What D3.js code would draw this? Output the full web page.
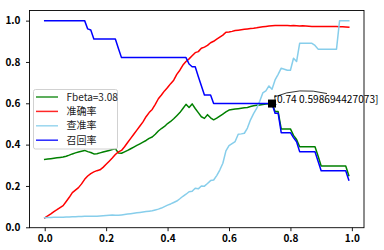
<!DOCTYPE html>
<html><head><meta charset="utf-8">
<script src="https://cdn.jsdelivr.net/npm/d3@7/dist/d3.min.js"></script>
<style>
body{margin:0;background:#fff;}
svg text{font-family:"Noto Sans CJK SC","DejaVu Sans",sans-serif;}
</style></head>
<body><svg id="c" width="384" height="250"></svg>
<script>
// thresholds 0.00 .. 0.99
const thresholds = d3.range(100).map(i => i / 100);

const fbeta = [0.328,0.330,0.332,0.334,0.336,0.338,0.340,0.344,0.349,0.355,
0.360,0.364,0.368,0.372,0.366,0.362,0.355,0.356,0.360,0.364,
0.368,0.372,0.376,0.380,0.360,0.358,0.365,0.372,0.380,0.388,
0.396,0.404,0.412,0.420,0.430,0.437,0.450,0.466,0.478,0.488,
0.502,0.512,0.525,0.540,0.555,0.575,0.595,0.580,0.597,0.575,
0.555,0.535,0.527,0.545,0.530,0.520,0.528,0.538,0.548,0.558,
0.567,0.570,0.572,0.574,0.576,0.578,0.580,0.584,0.588,0.590,
0.592,0.594,0.596,0.598,0.5987,0.560,0.560,0.476,0.476,0.476,
0.476,0.445,0.425,0.390,0.390,0.390,0.390,0.390,0.390,0.345,
0.297,0.297,0.297,0.297,0.297,0.297,0.297,0.297,0.297,0.250];

const accuracy = [0.045,0.055,0.065,0.076,0.085,0.095,0.105,0.125,0.145,0.168,
0.180,0.192,0.210,0.232,0.248,0.260,0.268,0.274,0.278,0.290,
0.305,0.320,0.335,0.352,0.365,0.372,0.390,0.410,0.430,0.450,
0.470,0.490,0.510,0.535,0.555,0.570,0.595,0.622,0.640,0.660,
0.676,0.695,0.712,0.740,0.760,0.785,0.802,0.815,0.830,0.845,
0.850,0.866,0.872,0.880,0.893,0.900,0.910,0.920,0.930,0.944,
0.945,0.948,0.952,0.954,0.956,0.958,0.960,0.962,0.963,0.965,
0.968,0.970,0.972,0.974,0.975,0.976,0.977,0.977,0.976,0.976,
0.975,0.976,0.975,0.974,0.975,0.974,0.973,0.972,0.971,0.971,
0.971,0.971,0.971,0.971,0.971,0.971,0.970,0.970,0.969,0.968];

const precision = [0.046,0.047,0.047,0.048,0.048,0.049,0.049,0.050,0.050,0.051,
0.051,0.052,0.052,0.053,0.053,0.053,0.054,0.054,0.055,0.056,
0.057,0.058,0.059,0.058,0.058,0.060,0.062,0.064,0.066,0.068,
0.070,0.072,0.074,0.076,0.078,0.080,0.084,0.088,0.093,0.100,
0.107,0.113,0.120,0.127,0.138,0.150,0.160,0.172,0.174,0.189,
0.186,0.200,0.199,0.212,0.226,0.229,0.250,0.277,0.310,0.370,
0.395,0.405,0.415,0.450,0.452,0.455,0.480,0.520,0.550,0.575,
0.610,0.650,0.660,0.684,0.668,0.713,0.740,0.770,0.765,0.760,
0.760,0.818,0.802,0.890,0.890,0.890,0.890,0.890,0.880,0.862,
0.862,0.862,0.862,0.862,0.862,0.862,1.000,1.000,1.000,1.000];

const recall = [1,1,1,1,1,1,1,1,1,1,
1,1,1,1,0.960,0.955,0.911,0.911,0.911,0.911,
0.911,0.911,0.911,0.911,0.865,0.821,0.821,0.821,0.821,0.821,
0.821,0.821,0.821,0.821,0.821,0.821,0.821,0.821,0.821,0.821,
0.821,0.821,0.821,0.821,0.821,0.821,0.821,0.790,0.777,0.777,
0.730,0.685,0.640,0.640,0.640,0.5987,0.5987,0.5987,0.5987,0.5987,
0.5987,0.5987,0.5987,0.5987,0.5987,0.5987,0.5987,0.5987,0.5987,0.5987,
0.5987,0.5987,0.5987,0.5987,0.5987,0.552,0.552,0.458,0.458,0.458,
0.458,0.434,0.414,0.366,0.366,0.366,0.366,0.366,0.366,0.320,
0.274,0.274,0.274,0.274,0.274,0.274,0.274,0.274,0.274,0.229];

const seriesNames = ["Fbeta=3.08", "准确率", "查准率", "召回率"];
const seriesColors = ["green", "red", "skyblue", "blue"];
const xTicks = [0, 0.2, 0.4, 0.6, 0.8, 1.0];
const yTicks = [0, 0.2, 0.4, 0.6, 0.8, 1.0];
const bestPoint = [0.74, 0.5986944270733];
const annotationText = "[0.74 0.598694427073]";

const svg = d3.select("#c");
const L = 29.5, R = 364, T = 10.5, B = 227.7;
const x = d3.scaleLinear().domain([-0.0495, 1.0395]).range([L, R]);
const y = d3.scaleLinear().domain([-0.002, 1.049]).range([B, T]);

const allSeries = [fbeta, accuracy, precision, recall];
const line = d3.line().x((d, i) => x(thresholds[i])).y(d => y(d));

allSeries.forEach((s, k) => {
  svg.append("path").datum(s).attr("d", line)
    .attr("fill", "none").attr("stroke", seriesColors[k])
    .attr("stroke-width", 1.5).attr("stroke-linejoin", "round").attr("stroke-linecap", "square");
});

// spines
svg.append("rect").attr("x", L).attr("y", T).attr("width", R - L).attr("height", B - T)
  .attr("fill", "none").attr("stroke", "#000").attr("stroke-width", 0.9);

const xAxis = svg.append("g").attr("transform", `translate(0,${B})`)
  .call(d3.axisBottom(x).tickValues(xTicks).tickFormat(d3.format(".1f")).tickSize(3.5).tickPadding(3.5));
const yAxis = svg.append("g").attr("transform", `translate(${L},0)`)
  .call(d3.axisLeft(y).tickValues(yTicks).tickFormat(d3.format(".1f")).tickSize(3.5).tickPadding(5.5));
[xAxis, yAxis].forEach(g => {
  g.select(".domain").remove();
  g.selectAll("line").attr("stroke", "#000").attr("stroke-width", 0.9);
  g.selectAll("text").attr("font-family", '"Noto Sans CJK SC", sans-serif').attr("font-size", 10)
    .attr("font-weight", "bold").attr("fill", "#000");
});

// legend
const lg = svg.append("g");
lg.append("rect").attr("x", 33.5).attr("y", 89.5).attr("width", 84).attr("height", 59.5)
  .attr("rx", 2).attr("fill", "#fff").attr("fill-opacity", 0.8).attr("stroke", "#cccccc").attr("stroke-width", 0.9);
seriesNames.forEach((n, k) => {
  const yy = 97 + k * 14.4;
  lg.append("line").attr("x1", 36).attr("x2", 58).attr("y1", yy).attr("y2", yy)
    .attr("stroke", seriesColors[k]).attr("stroke-width", 1.5).attr("stroke-opacity", 0.85);
  lg.append("text").attr("x", 66.5).attr("y", yy + 3.6).attr("font-size", 10).attr("fill", "#222").text(n);
});

// annotation
const px = x(bestPoint[0]), py = y(bestPoint[1]);
svg.append("path").attr("d", `M${px + 2},${py - 6.5} Q${px + 27},${py - 17} ${px + 55},${py - 10}`)
  .attr("fill", "none").attr("stroke", "#000").attr("stroke-width", 0.8);
svg.append("rect").attr("x", px - 4).attr("y", py - 4).attr("width", 8).attr("height", 8).attr("fill", "#000");
svg.append("text").attr("x", px + 1.5).attr("y", py - 0.5).attr("font-size", 10).attr("fill", "#000")
  .attr("textLength", 105).attr("lengthAdjust", "spacingAndGlyphs").text(annotationText);
</script>
</body></html>
